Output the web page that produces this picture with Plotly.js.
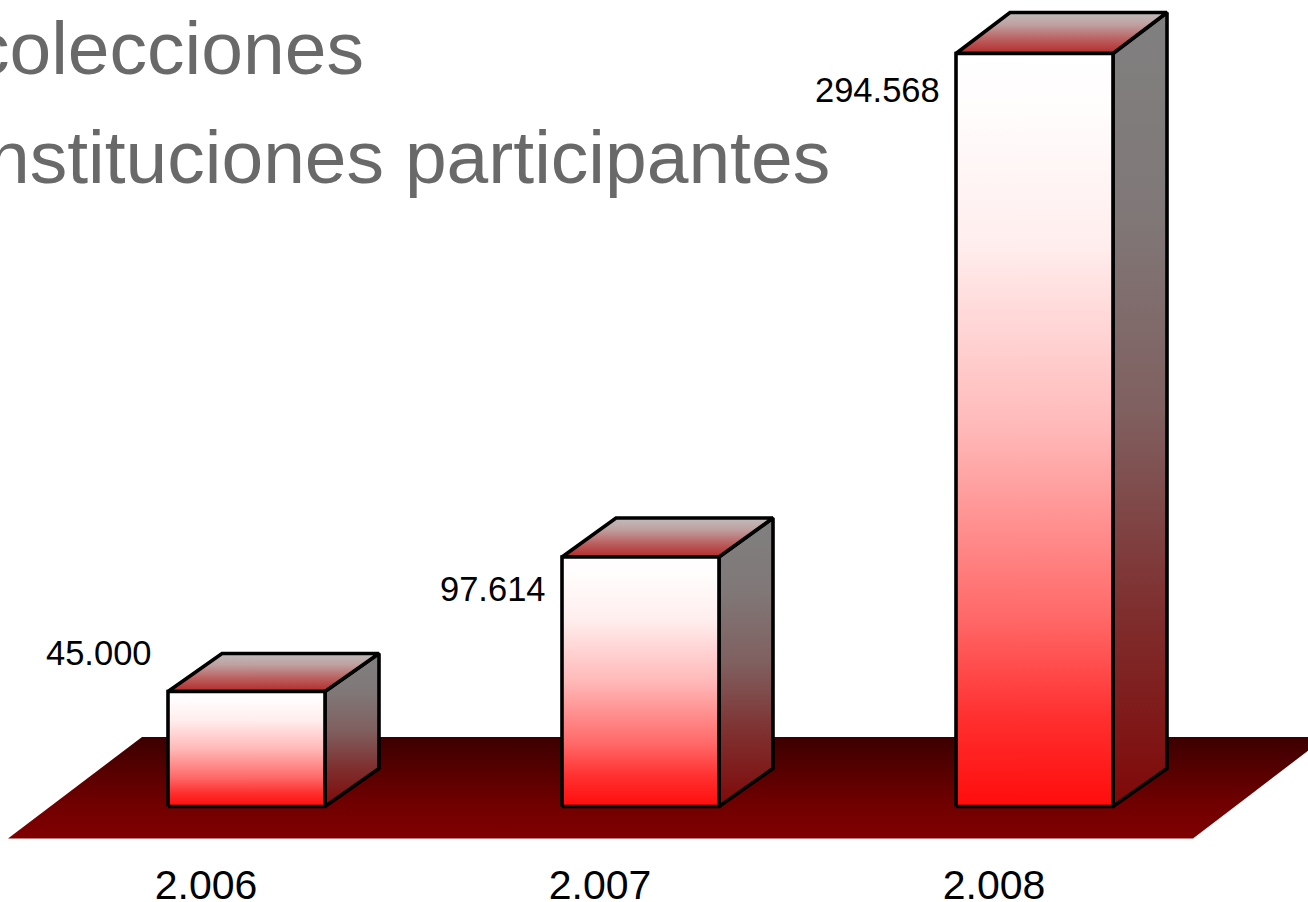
<!DOCTYPE html>
<html>
<head>
<meta charset="utf-8">
<script src="https://cdn.plot.ly/plotly-3.0.1.min.js"></script>
<style>html,body{margin:0;padding:0;background:#fff;overflow:hidden}#chart{width:1308px;height:902px}</style>
</head>
<body>
<div id="chart"></div>
<script>
// Data
var categories = ['2.006', '2.007', '2.008'];
var values = [45000, 97614, 294568];
var valueLabels = ['45.000', '97.614', '294.568'];
var titleLines = ['colecciones', 'nstituciones participantes'];

// Scale: page pixels per data unit
var W = 1308, H = 902, plotBottom = 857;
var pxPerCat = 394, pxPerVal = 753 / 294568;
var originX = 246.5, originY = 806.5;
var halfBar = 78.5 / pxPerCat, depthX = 54 / pxPerCat;
var depthBase = 38 / pxPerVal;
var depthTop = [38 / pxPerVal, 39 / pxPerVal, 41 / pxPerVal];
var xRange = [-originX / pxPerCat, (W - originX) / pxPerCat];
var yRange = [(originY - plotBottom) / pxPerVal, originY / pxPerVal];

// Label placement
var labelGap = 14, labelShift = [38, -32, -36];
var tickOffset = -40.5 / pxPerCat;

var frontScale = [[0, '#ff0c0c'], [0.12, '#ff3030'], [0.25, '#ff6868'], [0.5, '#ffb8b8'], [0.75, '#ffeeee'], [0.92, '#fffcfc'], [1, '#ffffff']];
var sideScale = [[0, '#800808'], [0.25, '#7f2f2f'], [0.5, '#806060'], [0.75, '#807878'], [1, '#808080']];
var topScale = [[0, '#b52a2a'], [0.35, '#bb6060'], [0.7, '#bfa0a0'], [1, '#c0bcbc']];
var floorScale = [[0, '#800000'], [0.35, '#700000'], [1, '#3c0000']];

function poly(xs, ys, scale, lineW) {
  return {
    type: 'scatter', mode: 'lines', x: xs, y: ys, fill: 'toself',
    fillgradient: { type: 'vertical', colorscale: scale },
    line: { color: lineW ? '#000000' : 'rgba(0,0,0,0)', width: lineW || 0, shape: 'linear' },
    hoverinfo: 'skip', showlegend: false
  };
}

var traces = [];
// Floor: spans all categories, front edge below zero
(function () {
  var fy = -32 / pxPerVal, by = 69.5 / pxPerVal;
  var fl = xRange[0] + 8 / pxPerCat, fr = xRange[0] + 1193 / pxPerCat;
  var bl = xRange[0] + 142 / pxPerCat, br = xRange[0] + 1326 / pxPerCat;
  traces.push(poly([fl, fr, br, bl, fl], [fy, fy, by, by, fy], floorScale, 0));
})();

values.forEach(function (v, i) {
  var l = i - halfBar, r = i + halfBar, d = depthTop[i];
  traces.push(poly([r, r + depthX, r + depthX, r, r], [0, depthBase, v + d, v, 0], sideScale, 3.6));
  traces.push(poly([l, r, r + depthX, l + depthX, l], [v, v, v + d, v + d, v], topScale, 3.6));
  traces.push(poly([l, r, r, l, l], [0, 0, v, v, 0], frontScale, 3.6));
});

var annotations = values.map(function (v, i) {
  return {
    x: i - halfBar, y: v, xref: 'x', yref: 'y', text: valueLabels[i], showarrow: false,
    xanchor: 'right', yanchor: 'middle', xshift: -labelGap, yshift: labelShift[i],
    font: { family: 'Liberation Sans, Arial, sans-serif', size: 34.5, color: '#000000' }
  };
});
annotations.push({
  x: -30 / W, y: 1 - 48 / plotBottom, xref: 'paper', yref: 'paper', text: titleLines[0], showarrow: false,
  xanchor: 'left', yanchor: 'middle', font: { family: 'Liberation Sans, Arial, sans-serif', size: 75, color: '#696969' }
});
annotations.push({
  x: -14 / W, y: 1 - 157 / plotBottom, xref: 'paper', yref: 'paper', text: titleLines[1], showarrow: false,
  xanchor: 'left', yanchor: 'middle', font: { family: 'Liberation Sans, Arial, sans-serif', size: 75, color: '#696969' }
});

var layout = {
  width: W, height: H,
  margin: { l: 0, r: 0, t: 0, b: H - plotBottom, pad: 0 },
  paper_bgcolor: '#ffffff', plot_bgcolor: 'rgba(0,0,0,0)',
  showlegend: false, hovermode: false,
  xaxis: {
    range: xRange, showgrid: false, zeroline: false, showline: false, ticks: '',
    tickmode: 'array', tickvals: categories.map(function (c, i) { return i + tickOffset; }), ticktext: categories,
    tickfont: { family: 'Liberation Sans, Arial, sans-serif', size: 41, color: '#000000' }, tickangle: 0, automargin: false
  },
  yaxis: { range: yRange, showgrid: false, zeroline: false, showline: false, showticklabels: false, ticks: '', automargin: false },
  annotations: annotations
};

Plotly.newPlot('chart', traces, layout, { displayModeBar: false, staticPlot: true });
</script>
</body>
</html>
